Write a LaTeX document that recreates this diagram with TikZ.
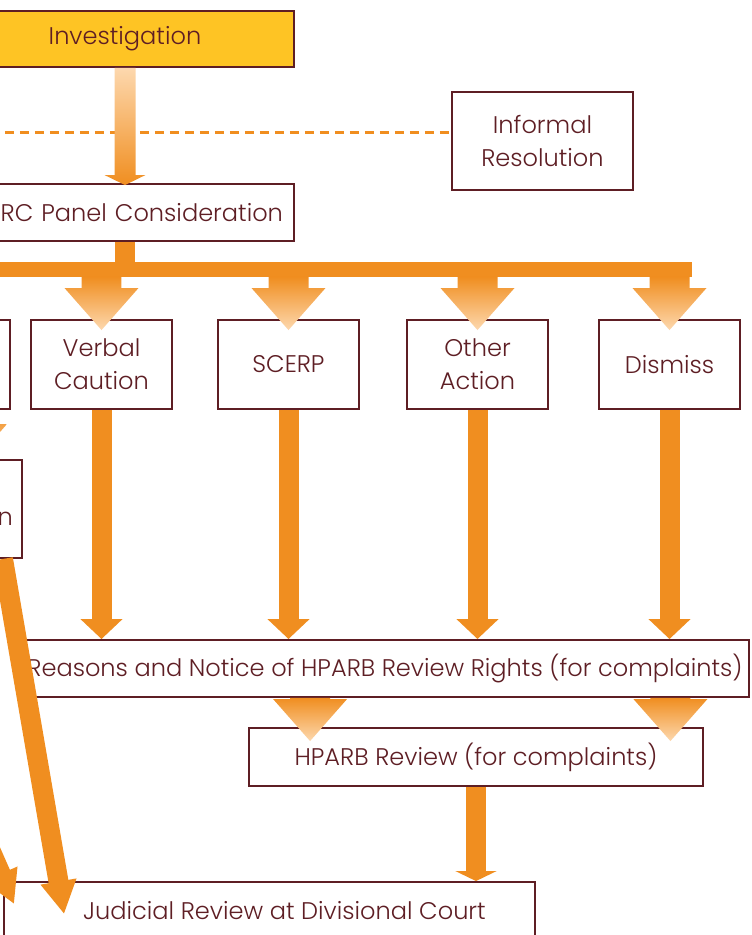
\documentclass[tikz,border=0pt]{standalone}
\usepackage{fontspec}
\setmainfont{Poppins}[UprightFont=* Light]
\usepackage{tikz}
\usetikzlibrary{arrows.meta, positioning, calc}
\definecolor{myorange}{RGB}{240,142,32}
\definecolor{mypeach}{RGB}{253,216,174}
\definecolor{myyellow}{RGB}{254,196,36}
\definecolor{mymaroon}{RGB}{94,30,36}
\tikzset{
  box/.style={rectangle, draw=mymaroon, fill=white, text=mymaroon,
    align=center, minimum width=2.82cm, minimum height=1.78cm,
    inner sep=0pt, font=\fontsize{13.7}{18.7}\selectfont, line width=1.1pt},
  widebox/.style={box, minimum height=1.14cm},
  fatarrow/.style={myorange, line width=0.4cm,
    -{Triangle[width=0.82cm, length=0.4cm]}},
  slantarrow/.style={myorange, line width=0.4cm,
    -{Triangle[width=0.68cm, length=0.66cm]}},
  fadedown/.style={top color=myorange, bottom color=mypeach},
  fadeup/.style={top color=mypeach, bottom color=myorange},
  dashline/.style={myorange, line width=0.06cm, dash pattern=on 0.18cm off 0.12cm}
}
% shaded block arrow: [shading]{top}{tip}{half shaft}{half head}{head length}
\newcommand{\gradarrow}[6][]{%
  \shade[#1] let \p1=(#2), \p2=(#3) in
    (\x2-#4,\y1) -- (\x2+#4,\y1) -- (\x2+#4,\y2+#6) -- (\x2+#5,\y2+#6)
    -- (\x2,\y2) -- (\x2-#5,\y2+#6) -- (\x2-#4,\y2+#6) -- cycle;}

\begin{document}
\begin{tikzpicture}[x=0.02cm, y=-0.02cm]
  \useasboundingbox (0,0) rectangle (751,935);
  % investigation and informal route
  \node[box, fill=myyellow, minimum width=6.76cm, minimum height=1.12cm] (invest) at (125,39) {Investigation};
  \node[box, minimum width=3.62cm, minimum height=1.96cm] (informal) at (542.5,141) {Informal\\Resolution};
  \node[widebox, minimum width=6.76cm, text width=6.32cm, align=right] (panel) at (125,212.5) {RC Panel Consideration};
  \coordinate (dashstart) at (-10,133);
  \draw[dashline] (dashstart) -- (dashstart -| informal.west);
  \gradarrow[fadeup]{invest.south}{$(panel.north)+(0,2)$}{0.21cm}{0.41cm}{0.2cm}
  % distribution bar
  \coordinate (barbot) at (0,277);
  \draw[myorange, line width=0.4cm] (panel.south) -- (panel.south |- 0,270);
  \fill[myorange] (-50,262) rectangle (692,277);
  % outcomes
  \node[box] (left) at (-60.5,364.5) {};
  \node[box] (verbal) at (101.5,364.5) {Verbal\\Caution};
  \node[box] (scerp) at (288.5,364.5) {SCERP};
  \node[box] (other) at (477.5,364.5) {Other\\Action};
  \node[box] (dismiss) at (669.5,364.5) {Dismiss};
  \node[box, minimum height=1.96cm, text width=2.46cm, align=right] (nbox) at (-48.5,509) {\mbox{}\\n};
  \foreach \b in {verbal,scerp,other,dismiss}
    \gradarrow[fadedown]{barbot}{$(\b.north)+(0,11)$}{0.4cm}{0.74cm}{0.84cm};
  \gradarrow[fadedown]{left.south}{$(nbox.north)+(18.5,7)$}{0.4cm}{0.74cm}{0.84cm}
  % reasons and reviews
  \node[widebox, minimum width=14.56cm] (reasons) at (385,668.5) {Reasons and Notice of HPARB Review Rights (for complaints)};
  \node[widebox, minimum width=9.08cm, minimum height=1.16cm] (hparb) at (476,757) {HPARB Review (for complaints)};
  \node[widebox, minimum width=10.62cm, minimum height=1.16cm] (judicial) at (269.5,911) {\hspace*{0.6cm}Judicial Review at Divisional Court};
  \foreach \b in {verbal,scerp,other,dismiss}
    \draw[fatarrow] (\b.south) -- (\b.south |- reasons.north);
  \gradarrow[fadedown]{reasons.south}{$(hparb.north west)+(62,14)$}{0.4cm}{0.74cm}{0.84cm}
  \gradarrow[fadedown]{reasons.south}{$(hparb.north east)+(-33.5,14)$}{0.4cm}{0.74cm}{0.84cm}
  \draw[fatarrow, -{Triangle[width=0.82cm, length=0.2cm]}] (hparb.south) -- (hparb.south |- judicial.north);
  % slanted arrows from the left
  \coordinate (offleft) at (-120,600);
  \draw[slantarrow] ($(nbox.south east)+(-20,0)$) -- ($(judicial.north west)+(61,33)$);
  \draw[slantarrow] (offleft) -- ($(judicial.north west)+(11,23)$);
\end{tikzpicture}
\end{document}
